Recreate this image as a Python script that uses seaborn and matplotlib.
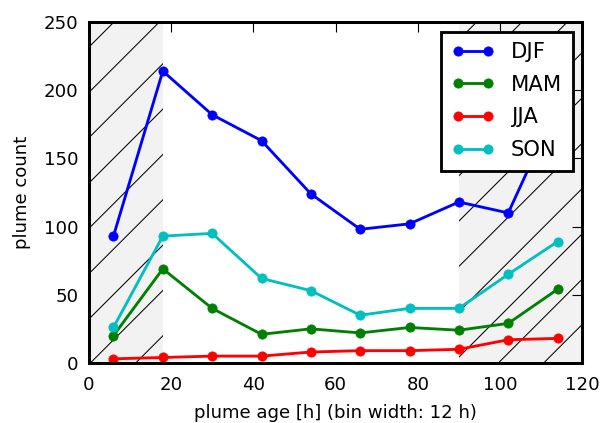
import numpy as np
import pandas as pd
import matplotlib
matplotlib.use('Agg')
import matplotlib.pyplot as plt
import seaborn as sns

# Plume counts per 12 h age bin, by season
plume_age = [6, 18, 30, 42, 54, 66, 78, 90, 102, 114]
djf = [93, 214, 182, 163, 124, 98, 102, 118, 110, 189]
mam = [20, 69, 40, 21, 25, 22, 26, 24, 29, 54]
jja = [3, 4, 5, 5, 8, 9, 9, 10, 17, 18]
son = [26, 93, 95, 62, 53, 35, 40, 40, 65, 89]
seasons = ['DJF', 'MAM', 'JJA', 'SON']
colors = ['b', 'g', 'r', 'c']
shaded = [(0, 18), (90, 120)]

df = pd.DataFrame({'age': plume_age, 'DJF': djf, 'MAM': mam, 'JJA': jja, 'SON': son})

sns.set_style('white')
plt.rcParams['font.family'] = ['DejaVu Sans']
plt.rcParams['hatch.linewidth'] = 0.55
for key in ['text.color', 'axes.labelcolor', 'xtick.color', 'ytick.color']:
    plt.rcParams[key] = 'k'

fig = plt.figure(figsize=(604 / 136, 423 / 136), dpi=136)
ax = fig.add_axes([0.147, 0.142, 0.817, 0.806])

# shaded (hatched) age ranges
for lo, hi in shaded:
    ax.axvspan(lo, hi, facecolor='0.95', edgecolor='k', hatch='/', linewidth=0, zorder=0)

for name, col in zip(seasons, colors):
    sns.lineplot(data=df, x='age', y=name, ax=ax, color=col, label=name,
                 marker='o', markersize=4.9, markeredgecolor=col, markeredgewidth=0.4,
                 linewidth=1.5)

ax.set_xlim(0, 120)
ax.set_ylim(0, 250)
ax.set_xticks(np.arange(0, 121, 20))
ax.set_yticks(np.arange(0, 251, 50))
ax.set_xlabel('plume age [h] (bin width: 12 h)', fontsize=9.6, labelpad=5)
ax.set_ylabel('plume count', fontsize=9.6, labelpad=7)
ax.tick_params(direction='in', top=True, right=True, length=5.2, width=0.6,
               labelsize=9.6)
ax.tick_params(axis='x', pad=7)
ax.tick_params(axis='y', pad=5.5)
for sp in ax.spines.values():
    sp.set_linewidth(1.6)
    sp.set_color('k')

leg = ax.legend(loc='upper right', fontsize=11.2, numpoints=2, fancybox=False,
                frameon=True, borderpad=0.5, handlelength=2.0, labelspacing=0.6,
                borderaxespad=0.45)
leg.get_frame().set_edgecolor('k')
leg.get_frame().set_linewidth(1.5)
leg.get_frame().set_alpha(1)

fig.savefig('out.png', dpi=136)
